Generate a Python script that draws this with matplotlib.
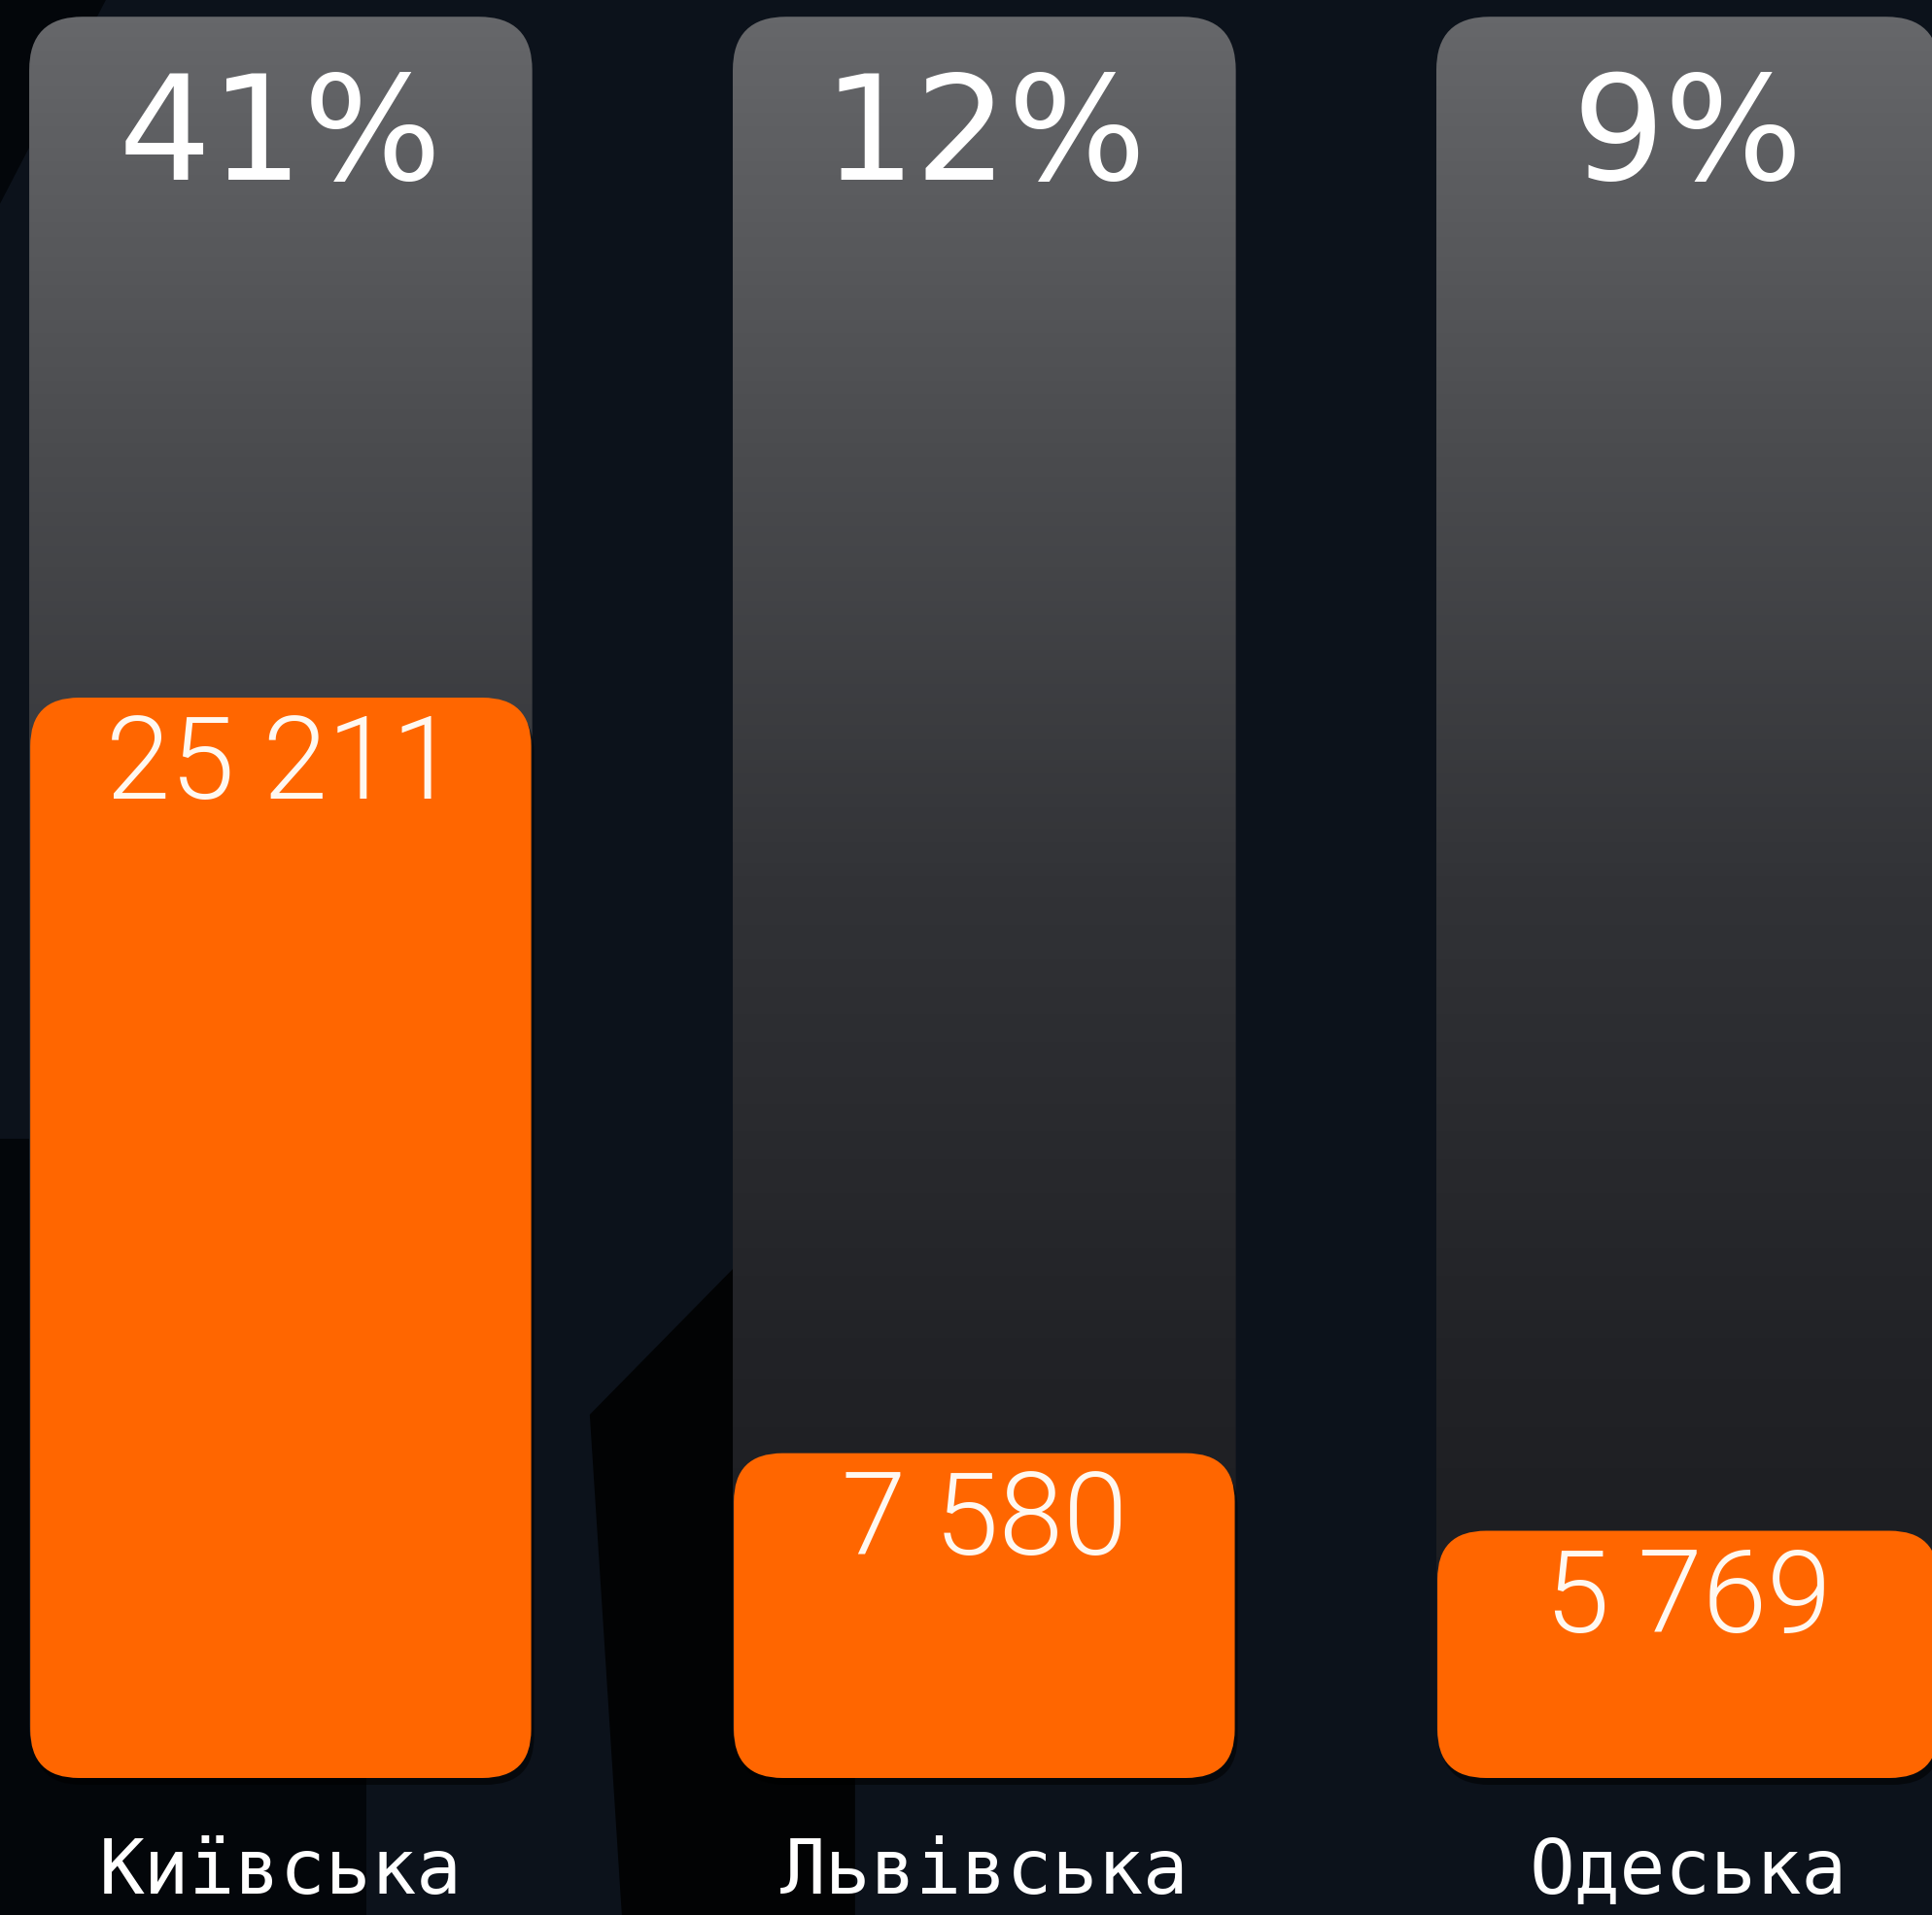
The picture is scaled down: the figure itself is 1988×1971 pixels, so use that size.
import numpy as np
import matplotlib.pyplot as plt
from matplotlib.patches import FancyBboxPatch, Polygon
from matplotlib.colors import LinearSegmentedColormap

regions = ['Київська', 'Львівська', 'Одеська']
counts = [25211, 7580, 5769]
shares = [41, 12, 9]
track_top = 41100

bg = '#0c121b'
orange = '#ff6600'

W, H, DPI = 1988, 1971, 100
fig = plt.figure(figsize=(W / DPI, H / DPI), dpi=DPI, facecolor=bg)
ax = fig.add_axes([0, 0, 1, 1])
ax.set_facecolor(bg)
ax.set_xlim(-0.399, 2.347)
ax.set_ylim(-3197, 41490)
ax.axis('off')

# px per data unit, used to keep rounded corners circular
xl, yl = ax.get_xlim(), ax.get_ylim()
px_x = W / (xl[1] - xl[0])
px_y = H / (yl[1] - yl[0])
aspect = px_x / px_y


def px2x(p):
    return p / px_x


def px2y(p):
    return p / px_y


def poly(pts, color):
    ax.add_patch(Polygon([(px2x(a), px2y(b)) for a, b in pts], closed=True,
                         fc=color, ec='none', zorder=0))


# low-poly background shading (offsets from first bar centre / baseline)
poly([(-289, 658), (88, 658), (88, -141), (-289, -141)], '#03060a')
poly([(318, 374), (591, 652), (591, -141), (351, -141)], '#020304')
poly([(-289, 1620), (-180, 1830), (-289, 1830)], '#03060a')

x = np.arange(len(regions))
cmap = LinearSegmentedColormap.from_list(
    'track', ['#66676a', '#4a4b4e', '#313236', '#222327', '#18191d'])
grad = np.linspace(0, 1, 256).reshape(-1, 1)

tracks = ax.bar(x, [track_top] * len(x), width=0.715, color='none', zorder=1)
for r in tracks:
    x0, w, h = r.get_x(), r.get_width(), r.get_height()
    r.remove()
    patch = FancyBboxPatch((x0, 0), w, h,
                           boxstyle=f'round,pad=0,rounding_size={px2x(55)}',
                           mutation_aspect=aspect, fc='none', ec='none', zorder=1)
    ax.add_patch(patch)
    im = ax.imshow(grad, cmap=cmap, extent=(x0, x0 + w, 0, h), origin='upper',
                   aspect='auto', zorder=1)
    im.set_clip_path(patch)

ax.set_xlim(xl)
ax.set_ylim(yl)

bars = ax.bar(x, counts, width=0.712, color='none', zorder=2)
for r in bars:
    x0, w, h = r.get_x(), r.get_width(), r.get_height()
    r.remove()
    style = f'round,pad=0,rounding_size={px2x(50)}'
    ax.add_patch(FancyBboxPatch((x0 + px2x(3), -px2y(7)), w, h, boxstyle=style,
                                mutation_aspect=aspect, fc='#000000', ec='none',
                                alpha=0.55, zorder=2))
    ax.add_patch(FancyBboxPatch((x0, 0), w, h, boxstyle=style,
                                mutation_aspect=aspect, fc=orange, ec='none', zorder=3))

for i in x:
    ax.annotate(f'{shares[i]}%', xy=(i, track_top), xytext=(0, -121),
                textcoords='offset points', ha='center', va='baseline',
                fontsize=108, color='white', family='DejaVu Sans', zorder=5)
    ax.annotate(f'{counts[i]:,}'.replace(',', ' '), xy=(i, counts[i]), xytext=(0, -75),
                textcoords='offset points', ha='center', va='baseline',
                fontsize=86, color='#fff8f0', family='Roboto', fontweight=300, zorder=5)
    ax.annotate(regions[i], xy=(i, 0), xytext=(0, -86),
                textcoords='offset points', ha='center', va='baseline',
                fontsize=56, color='white', family='DejaVu Sans Mono', zorder=5)

fig.savefig('out.png', dpi=DPI, facecolor=bg)
